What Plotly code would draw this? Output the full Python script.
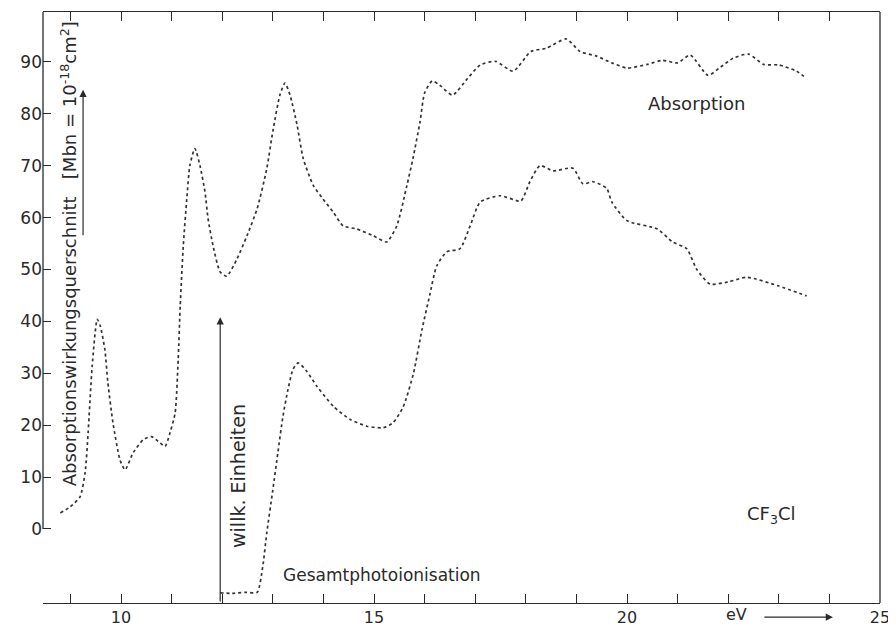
import plotly.graph_objects as go

# Absorption cross section (Mbn) vs photon energy (eV)
abs_ev = [8.80, 9.00, 9.19, 9.29, 9.35, 9.43, 9.53, 9.59, 9.68, 9.74, 9.84, 9.98, 10.08, 10.24,
          10.44, 10.60, 10.77, 10.87, 10.97, 11.07, 11.13, 11.17, 11.23, 11.30, 11.36, 11.46,
          11.56, 11.66, 11.72, 11.82, 11.96, 12.09, 12.29, 12.49, 12.69, 12.88, 13.00, 13.14,
          13.24, 13.34, 13.48, 13.60, 13.80, 13.99, 14.19, 14.39, 14.66, 14.98, 15.25, 15.45,
          15.65, 15.77, 15.91, 16.00, 16.15, 16.30, 16.55, 16.85, 17.10, 17.40, 17.75, 18.10,
          18.40, 18.80, 19.07, 19.40, 19.70, 20.00, 20.40, 20.70, 21.00, 21.25, 21.60, 21.85,
          22.10, 22.40, 22.70, 23.00, 23.35, 23.55]
abs_val = [3.1, 4.3, 6.2, 10.8, 18.6, 31.4, 40.4, 39.1, 34.6, 28.2, 20.5, 13.3, 11.4, 14.7,
           17.2, 17.8, 16.6, 15.9, 18.6, 22.4, 32.7, 43.0, 54.5, 63.6, 70.0, 73.3,
           70.0, 64.9, 59.8, 54.5, 49.5, 48.7, 52.0, 56.5, 61.7, 69.4, 76.6, 83.6,
           85.9, 83.6, 77.8, 71.4, 66.2, 63.6, 61.1, 58.4, 57.8, 56.5, 55.3, 58.4,
           66.2, 71.4, 78.5, 84.0, 86.3, 85.5, 83.6, 86.8, 89.4, 90.1, 88.2, 92.0,
           92.6, 94.4, 92.0, 91.1, 89.8, 88.8, 89.5, 90.3, 89.8, 91.3, 87.4, 89.0,
           90.7, 91.5, 89.5, 89.4, 88.2, 86.8]

# Total photoionisation (arbitrary units, same plotting scale)
photo_ev = [11.96, 12.20, 12.45, 12.69, 12.80, 12.88, 13.00, 13.10, 13.20, 13.30, 13.40, 13.50,
            13.67, 13.87, 14.20, 14.53, 14.86, 15.18, 15.38, 15.58, 15.78, 15.95, 16.10, 16.24,
            16.44, 16.70, 16.90, 17.10, 17.50, 17.90, 18.08, 18.28, 18.54, 18.93, 19.13, 19.33,
            19.60, 19.70, 20.00, 20.60, 20.90, 21.18, 21.38, 21.64, 22.00, 22.37, 23.00, 23.55]
photo_val = [-12.3, -12.4, -12.2, -12.2, -7.3, -0.8, 7.5, 14.7, 21.7, 26.9, 30.8, 32.0,
             30.4, 27.5, 23.6, 21.1, 19.8, 19.5, 20.5, 23.6, 30.0, 38.5, 45.0, 50.7,
             53.4, 54.0, 58.4, 63.0, 64.2, 63.2, 66.9, 70.0, 69.0, 69.5, 66.5, 66.9,
             65.6, 63.0, 59.4, 57.8, 55.3, 54.0, 50.0, 47.2, 47.6, 48.5, 46.8, 44.9]

x_ticks = list(range(9, 26))
x_labels = [str(v) if v % 5 == 0 else "" for v in x_ticks]
y_ticks = list(range(0, 100, 10))

X_RANGE = [8.458, 25.0]
Y_RANGE = [-14.26, 99.6]
FONT = "DejaVu Sans"
INK = "#2a2a2a"


def ypaper(v):
    return (v - Y_RANGE[0]) / (Y_RANGE[1] - Y_RANGE[0])


fig = go.Figure()
for xs, ys in [(abs_ev, abs_val), (photo_ev, photo_val)]:
    fig.add_trace(go.Scatter(x=xs, y=ys, mode="lines",
                             line=dict(color="#333333", width=1.7, dash="dot", shape="spline",
                                       smoothing=0.6),
                             hoverinfo="skip", showlegend=False))

# the page body has an 8px margin, so the figure is 8px smaller than the window
fig.update_layout(
    width=888, height=619,
    margin=dict(l=35, r=16, t=4, b=24),
    paper_bgcolor="white", plot_bgcolor="white",
    font=dict(family=FONT, color=INK, size=17),
    xaxis=dict(range=X_RANGE, tickvals=x_ticks, ticktext=x_labels, ticks="inside",
               ticklen=9, tickwidth=1.3, tickcolor=INK, showline=True, linecolor=INK,
               linewidth=1.3, mirror="ticks", showgrid=False, zeroline=False, automargin=False,
               ticklabelstandoff=0,
               tickfont=dict(size=16, family=FONT, color=INK)),
    yaxis=dict(range=Y_RANGE, tickvals=y_ticks, ticks="inside", ticklen=8, tickwidth=1.3,
               tickcolor=INK, showline=False, showgrid=False, zeroline=False, automargin=False,
               tickfont=dict(size=17, family=FONT, color=INK)),
)

# left axis line only from 0 upward, right axis full height
fig.add_shape(type="line", xref="paper", yref="y", x0=0, x1=0, y0=0, y1=Y_RANGE[1],
              line=dict(color=INK, width=1.3))
fig.add_shape(type="line", xref="paper", yref="paper", x0=1, x1=1, y0=0, y1=1,
              line=dict(color=INK, width=1.3))

# arrows
fig.add_annotation(x=9.25, y=84.6, ax=9.25, ay=56.3, xref="x", yref="y", axref="x", ayref="y",
                   text="", showarrow=True, arrowhead=2, arrowsize=1.2, arrowwidth=1.2,
                   arrowcolor=INK)
fig.add_annotation(x=11.96, y=40.8, ax=11.96, ay=Y_RANGE[0], xref="x", yref="y", axref="x",
                   ayref="y", text="", showarrow=True, arrowhead=2, arrowsize=1.2,
                   arrowwidth=1.2, arrowcolor=INK)
fig.add_annotation(x=24.07, y=ypaper(-17.0), ax=-70, ay=0, xref="x", yref="paper",
                   axref="pixel", ayref="pixel", text="", showarrow=True, arrowhead=2,
                   arrowsize=1.2, arrowwidth=1.2, arrowcolor=INK)

# texts
fig.add_annotation(x=8.96, y=53.0, xref="x", yref="y", showarrow=False, textangle=-90,
                   text="Absorptionswirkungsquerschnitt   [Mbn = 10<sup>-18</sup>cm<sup>2</sup>]",
                   font=dict(size=18, family=FONT, color=INK))
fig.add_annotation(x=12.31, y=10.2, xref="x", yref="y", showarrow=False, textangle=-90,
                   text="willk. Einheiten", font=dict(size=19, family=FONT, color=INK))
fig.add_annotation(x=15.16, y=-8.9, xref="x", yref="y", showarrow=False,
                   text="Gesamtphotoionisation", font=dict(size=17, family=FONT, color=INK))
fig.add_annotation(x=21.38, y=82.0, xref="x", yref="y", showarrow=False,
                   text="Absorption", font=dict(size=18, family=FONT, color=INK))
fig.add_annotation(x=22.85, y=2.6, xref="x", yref="y", showarrow=False,
                   text="CF<sub>3</sub>Cl", font=dict(size=18, family=FONT, color=INK))
fig.add_annotation(x=22.17, y=ypaper(-16.5), xref="x", yref="paper", showarrow=False,
                   yanchor="middle", xanchor="center",
                   text="eV", font=dict(size=16, family=FONT, color=INK))

fig.write_html("out.html")
